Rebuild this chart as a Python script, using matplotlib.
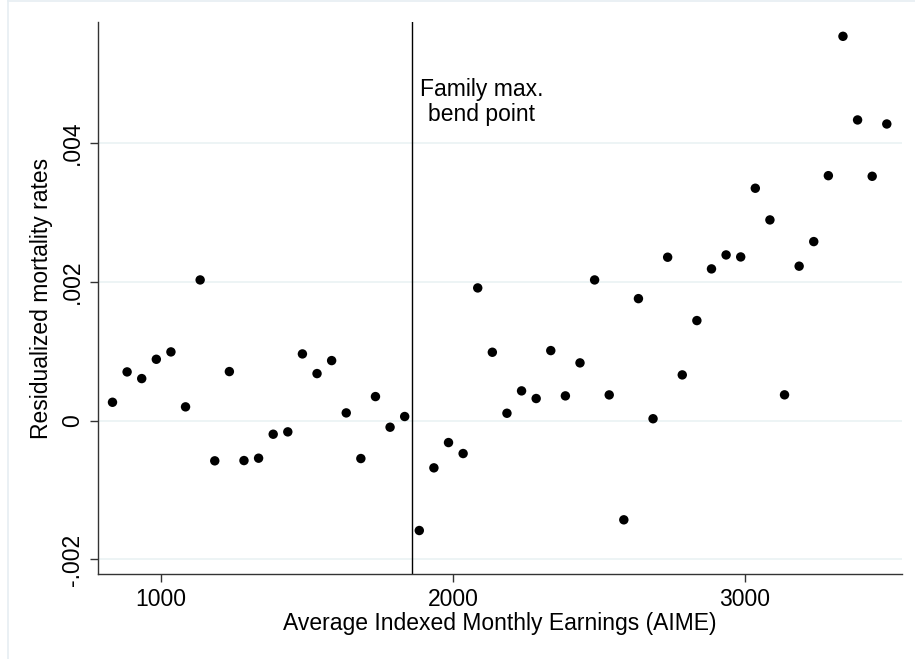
import matplotlib
matplotlib.use("Agg")
import matplotlib.pyplot as plt
from matplotlib.lines import Line2D

plt.rcParams['font.family'] = ['Liberation Sans', 'DejaVu Sans']

# Bin centres of average indexed monthly earnings (AIME)
aime = [835 + 50 * i for i in range(54)]

# Residualized mortality rate in each AIME bin
mortality = [
    0.000263, 0.000700, 0.000604, 0.000882, 0.000988, 0.000197, 0.002024,
    -0.000580, 0.000705, -0.000576, -0.000542, -0.000197, -0.000163, 0.000959,
    0.000676, 0.000863, 0.000110, -0.000547, 0.000345, -0.000096, 0.000058,
    -0.001583, -0.000681, -0.000317, -0.000475, 0.001909, 0.000983, 0.000105,
    0.000427, 0.000317, 0.001007, 0.000355, 0.000830, 0.002024, 0.000369,
    -0.001429, 0.001755, 0.000026, 0.002351, 0.000657, 0.001439, 0.002183,
    0.002384, 0.002355, 0.003344, 0.002888, 0.000370, 0.002222, 0.002576,
    0.003525, 0.005531, 0.004327, 0.003516, 0.004269,
]

bend_point = 1861
bend_label = "Family max.\nbend point"

x_ticks = [1000, 2000, 3000]
y_ticks = [-0.002, 0.0, 0.002, 0.004]
y_tick_labels = ["-.002", "0", ".002", ".004"]

FS = 16.5

fig = plt.figure(figsize=(9.15, 6.59), dpi=100)
fig.patch.set_facecolor("white")

# faint outer frame of the graph region
fig.add_artist(Line2D([7.5 / 915, 7.5 / 915], [0, 1], transform=fig.transFigure,
                      color="#e6eef2", lw=1.2))
fig.add_artist(Line2D([7.5 / 915, 1], [1 - 0.6 / 659, 1 - 0.6 / 659],
                      transform=fig.transFigure, color="#e6eef2", lw=1.2))

ax = fig.add_axes([98 / 915, (659 - 574) / 659, (901.7 - 98) / 915, (574 - 22) / 659])

ax.set_xlim(785.4, 3536)
ax.set_ylim(-0.002209, 0.005737)

for yv in y_ticks:
    ax.axhline(yv, color="#eaf2f4", lw=1.2, zorder=0)

ax.axvline(bend_point, color="black", lw=1.0, zorder=2)
ax.text(2098, 0.004586, bend_label, ha="center", va="center",
        fontsize=FS, linespacing=1.15)

ax.scatter(aime, mortality, s=46, color="black", edgecolors="none", zorder=3)

ax.set_xticks(x_ticks)
ax.set_xticklabels([str(t) for t in x_ticks])
ax.set_yticks(y_ticks)
ax.set_yticklabels(y_tick_labels, rotation=90, va="center")

ax.tick_params(axis="both", direction="out", length=6, width=1.0,
               color="#333333", labelsize=FS, pad=4)

for side in ("top", "right"):
    ax.spines[side].set_visible(False)
for side in ("left", "bottom"):
    ax.spines[side].set_color("#333333")
    ax.spines[side].set_linewidth(1.0)

ax.set_xlabel("Average Indexed Monthly Earnings (AIME)", fontsize=FS, labelpad=1)
ax.set_ylabel("Residualized mortality rates", fontsize=FS, labelpad=6)

fig.savefig("out.png", dpi=100, facecolor="white")
